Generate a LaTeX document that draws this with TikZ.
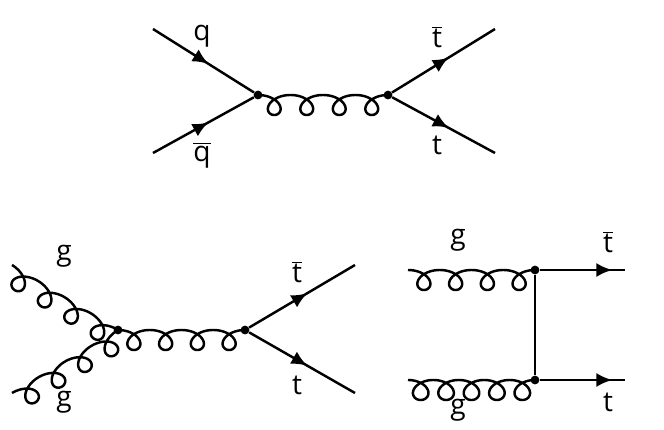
\documentclass[tikz,border=0pt]{standalone}
\usepackage{fontspec}
\setmainfont{Open Sans}
\usetikzlibrary{decorations.markings,arrows.meta}
\newcommand{\barred}[1]{\ensuremath{\overline{\mbox{#1}}}}
% \gluonpath{start}{angle}{length}{loops}
\newcommand{\gluonpath}[4]{%
  \begin{scope}[shift={#1},rotate=#2]
  \pgfmathsetmacro{\gc}{#3/(2*pi*#4)}
  \pgfmathsetmacro{\gend}{2*pi*#4}
  \draw[gluonline] plot[domain=0:\gend,samples=500,variable=\t,smooth] ({\gc*\t + 13.5*sin(\t r)}, {10*(1-cos(\t r))});
  \end{scope}}
\begin{document}
\begin{tikzpicture}[x=0.02cm,y=-0.02cm,
  fermion/.style={line width=1.4pt,postaction={decorate},decoration={markings,mark=at position #1 with {\arrow{Latex[length=9pt,width=8pt]}}}},
  fermion/.default=0.55,
  gluonline/.style={line width=1.4pt,line join=round},
  vtx/.style={circle,fill,inner sep=0pt,minimum size=5pt},
  lab/.style={font=\fontsize{16}{16}\selectfont}]
\useasboundingbox (0,0) rectangle (664,430);
% top
\node[vtx] (v1) at (258,95) {};
\node[vtx] (v2) at (388,95) {};
\coordinate (q) at (153,29); \coordinate (qb) at (153,153);
\coordinate (tb) at (495,29); \coordinate (t) at (495,153);
\draw[fermion] (q) -- (v1);
\draw[fermion] (qb) -- (v1);
\gluonpath{(v1)}{0}{130}{4}
\draw[fermion] (v2) -- (tb);
\draw[fermion] (v2) -- (t);
\node[lab] (lq) at (202,36) {q};
\node[lab] (lqb) at (202,155) {\barred{q}};
\node[lab] (ltb) at (437,37) {\barred{t}};
\node[lab] (lt) at (437,145) {t};
% bottom left
\node[vtx] (v3) at (118,330) {};
\node[vtx] (v4) at (245,330) {};
\coordinate (g1) at (12,265); \coordinate (g2) at (12,393);
\coordinate (tb2) at (355,265); \coordinate (t2) at (355,393);
\gluonpath{(g1)}{-31.5}{124}{4}
\gluonpath{(g2)}{30.7}{123}{4}
\gluonpath{(v3)}{0}{127}{4}
\draw[fermion] (v4) -- (tb2);
\draw[fermion] (v4) -- (t2);
\node[lab] (lg1) at (64,256) {g};
\node[lab] (lg2) at (64,402) {g};
\node[lab] (ltb2) at (297,272) {\barred{t}};
\node[lab] (lt2) at (297,385) {t};
% bottom right
\node[vtx] (v5) at (535,270) {};
\node[vtx] (v6) at (535,380) {};
\coordinate (g3) at (408,270); \coordinate (g4) at (408,380);
\coordinate (tb3) at (625,270); \coordinate (t3) at (625,380);
\gluonpath{(g3)}{0}{127}{4}
\gluonpath{(g4)}{0}{127}{5}
\draw[line width=1.4pt] (v5) -- (v6);
\draw[fermion=0.85] (v5) -- (tb3);
\draw[fermion=0.85] (v6) -- (t3);
\node[lab] (lg3) at (458,240) {g};
\node[lab] (lg4) at (458,410) {g};
\node[lab] (ltb3) at (608,242) {\barred{t}};
\node[lab] (lt3) at (608,402) {t};
\end{tikzpicture}
\end{document}
